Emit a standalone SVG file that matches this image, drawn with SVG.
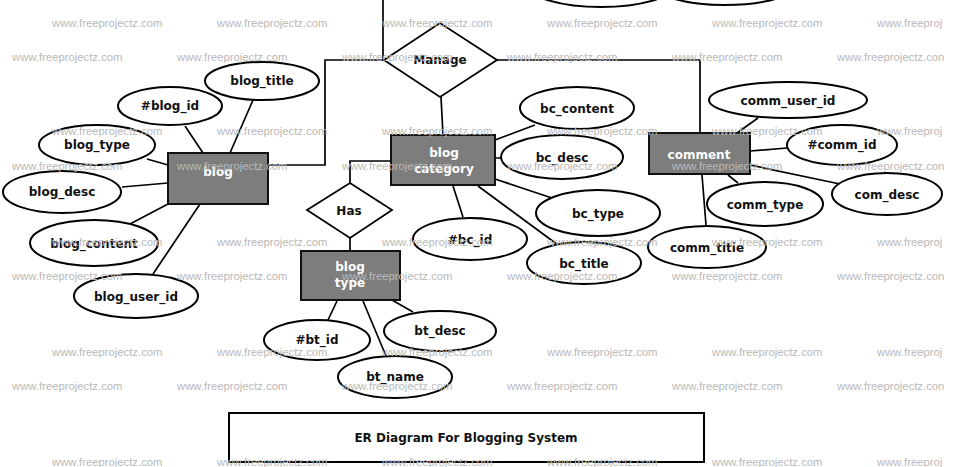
<svg xmlns="http://www.w3.org/2000/svg" width="976" height="467" viewBox="0 0 976 467">
<style>
.wm{font-family:"Liberation Sans",Arial,sans-serif;font-size:11.3px;fill:#b9b9b9}
.ent{fill:#7d7d7d;stroke:#111;stroke-width:2}
.att{fill:#fff;stroke:#000;stroke-width:2}
.rel{fill:#fff;stroke:#000;stroke-width:1.8}
.lbl{font-family:"DejaVu Sans",sans-serif;font-weight:bold;font-size:12px;fill:#111;text-anchor:middle}
.wl{font-family:"DejaVu Sans",sans-serif;font-weight:bold;font-size:12px;fill:#fff;text-anchor:middle}
.cn{fill:none;stroke:#000;stroke-width:1.7}
</style>
<rect width="976" height="467" fill="#fff"/>
<g id="connectors">
<path class="cn" d="M383,0 V60 M268,165 H325 V60 H384 M497,60 H700 V133 M441,97 L443,135"/>
<path class="cn" d="M185,126 L203,153 M253,100 L230,153 M147,159 L168,165 M122,187 L168,183 M130,224 L168,204 M153,274 L200,204"/>
<path class="cn" d="M535,125 L495,140 M495,158 L501,158 M495,179 L552,198 M453,186 L463,217 M478,186 L558,245"/>
<path class="cn" d="M350,183 V161 H391 M350,238 V251"/>
<path class="cn" d="M337,301 L328,320 M392,300 L413,312 M363,301 L386,356"/>
<path class="cn" d="M758,118 L737,133 M750,151 L787,148 M750,165 L840,184 M728,175 L738,183 M702,175 L706,225"/>
</g>
<g id="top-ellipses">
<ellipse class="att" cx="601" cy="-14" rx="72" ry="21"/>
<ellipse class="att" cx="725" cy="-16" rx="72" ry="21"/>
</g>
<g id="manage"><polygon class="rel" points="384,60 440,23 497,60 440,97"/><text class="lbl" x="440" y="64">Manage</text></g>
<g id="has"><polygon class="rel" points="307,210 350,183 392,210 350,238"/><text class="lbl" x="349" y="215">Has</text></g>
<g id="blog"><rect class="ent" x="168" y="153" width="100" height="51"/><text class="wl" x="218" y="176">blog</text></g>
<g id="blog_title"><ellipse class="att" cx="262" cy="81" rx="57" ry="19"/><text class="lbl" x="262" y="85">blog_title</text></g>
<g id="blog_id"><ellipse class="att" cx="170" cy="106" rx="52" ry="19"/><text class="lbl" x="170" y="110">#blog_id</text></g>
<g id="blog_type"><ellipse class="att" cx="97" cy="145" rx="58" ry="20"/><text class="lbl" x="97" y="149">blog_type</text></g>
<g id="blog_desc"><ellipse class="att" cx="62" cy="192" rx="59" ry="21"/><text class="lbl" x="62" y="196">blog_desc</text></g>
<g id="blog_content"><ellipse class="att" cx="94" cy="243" rx="64" ry="23"/><text class="lbl" x="94" y="248">blog_content</text></g>
<g id="blog_user_id"><ellipse class="att" cx="136" cy="296" rx="62" ry="22"/><text class="lbl" x="136" y="301">blog_user_id</text></g>
<g id="blog_category"><rect class="ent" x="391" y="135" width="104" height="50"/><text class="wl" x="444" y="157">blog</text><text class="wl" x="444" y="173">category</text></g>
<g id="bc_content"><ellipse class="att" cx="577" cy="108" rx="57" ry="21"/><text class="lbl" x="577" y="113">bc_content</text></g>
<g id="bc_desc"><ellipse class="att" cx="562" cy="157" rx="61" ry="22"/><text class="lbl" x="562" y="162">bc_desc</text></g>
<g id="bc_type"><ellipse class="att" cx="598" cy="213" rx="62" ry="23"/><text class="lbl" x="598" y="218">bc_type</text></g>
<g id="bc_id"><ellipse class="att" cx="470" cy="239" rx="57" ry="21"/><text class="lbl" x="470" y="244">#bc_id</text></g>
<g id="bc_title"><ellipse class="att" cx="584" cy="263" rx="57" ry="21"/><text class="lbl" x="584" y="268">bc_title</text></g>
<g id="blog_type_entity"><rect class="ent" x="301" y="251" width="99" height="49"/><text class="wl" x="350" y="271">blog</text><text class="wl" x="350" y="287">type</text></g>
<g id="bt_id"><ellipse class="att" cx="317" cy="340" rx="53" ry="20"/><text class="lbl" x="317" y="344">#bt_id</text></g>
<g id="bt_desc"><ellipse class="att" cx="440" cy="331" rx="56" ry="20"/><text class="lbl" x="440" y="335">bt_desc</text></g>
<g id="bt_name"><ellipse class="att" cx="395" cy="377" rx="57" ry="21"/><text class="lbl" x="395" y="381">bt_name</text></g>
<g id="comment"><rect class="ent" x="649" y="133" width="101" height="41"/><text class="wl" x="699" y="159">comment</text></g>
<g id="comm_user_id"><ellipse class="att" cx="788" cy="100" rx="79" ry="18"/><text class="lbl" x="788" y="105">comm_user_id</text></g>
<g id="comm_id"><ellipse class="att" cx="842" cy="145" rx="55" ry="20"/><text class="lbl" x="842" y="149">#comm_id</text></g>
<g id="com_desc"><ellipse class="att" cx="887" cy="194" rx="55" ry="21"/><text class="lbl" x="887" y="199">com_desc</text></g>
<g id="comm_type"><ellipse class="att" cx="765" cy="204" rx="58" ry="22"/><text class="lbl" x="765" y="209">comm_type</text></g>
<g id="comm_title"><ellipse class="att" cx="707" cy="247" rx="59" ry="21"/><text class="lbl" x="707" y="252">comm_titie</text></g>
<g id="title"><rect x="229" y="413" width="475" height="49" fill="#fff" stroke="#000" stroke-width="2"/><text class="lbl" x="466" y="442">ER Diagram For Blogging System</text></g>
<g id="watermarks">
<text class="wm" x="52" y="27">www.freeprojectz.com</text><text class="wm" x="217" y="27">www.freeprojectz.com</text><text class="wm" x="382" y="27">www.freeprojectz.com</text><text class="wm" x="547" y="27">www.freeprojectz.com</text><text class="wm" x="712" y="27">www.freeprojectz.com</text><text class="wm" x="877" y="27">www.freeproj</text>
<text class="wm" x="12" y="61">www.freeprojectz.com</text><text class="wm" x="177" y="61">www.freeprojectz.com</text><text class="wm" x="342" y="61">www.freeprojectz.com</text><text class="wm" x="507" y="61">www.freeprojectz.com</text><text class="wm" x="672" y="61">www.freeprojectz.com</text><text class="wm" x="837" y="61">www.freeprojectz.con</text>
<text class="wm" x="52" y="135">www.freeprojectz.com</text><text class="wm" x="217" y="135">www.freeprojectz.com</text><text class="wm" x="382" y="135">www.freeprojectz.com</text><text class="wm" x="547" y="135">www.freeprojectz.com</text><text class="wm" x="712" y="135">www.freeprojectz.com</text><text class="wm" x="877" y="135">www.freeproj</text>
<text class="wm" x="12" y="170">www.freeprojectz.com</text><text class="wm" x="177" y="170">www.freeprojectz.com</text><text class="wm" x="342" y="170">www.freeprojectz.com</text><text class="wm" x="507" y="170">www.freeprojectz.com</text><text class="wm" x="672" y="170">www.freeprojectz.com</text><text class="wm" x="837" y="170">www.freeprojectz.con</text>
<text class="wm" x="52" y="246">www.freeprojectz.com</text><text class="wm" x="217" y="246">www.freeprojectz.com</text><text class="wm" x="382" y="246">www.freeprojectz.com</text><text class="wm" x="547" y="246">www.freeprojectz.com</text><text class="wm" x="712" y="246">www.freeprojectz.com</text><text class="wm" x="877" y="246">www.freeproj</text>
<text class="wm" x="12" y="280">www.freeprojectz.com</text><text class="wm" x="177" y="280">www.freeprojectz.com</text><text class="wm" x="342" y="280">www.freeprojectz.com</text><text class="wm" x="507" y="280">www.freeprojectz.com</text><text class="wm" x="672" y="280">www.freeprojectz.com</text><text class="wm" x="837" y="280">www.freeprojectz.con</text>
<text class="wm" x="52" y="356">www.freeprojectz.com</text><text class="wm" x="217" y="356">www.freeprojectz.com</text><text class="wm" x="382" y="356">www.freeprojectz.com</text><text class="wm" x="547" y="356">www.freeprojectz.com</text><text class="wm" x="712" y="356">www.freeprojectz.com</text><text class="wm" x="877" y="356">www.freeproj</text>
<text class="wm" x="12" y="390">www.freeprojectz.com</text><text class="wm" x="177" y="390">www.freeprojectz.com</text><text class="wm" x="342" y="390">www.freeprojectz.com</text><text class="wm" x="507" y="390">www.freeprojectz.com</text><text class="wm" x="672" y="390">www.freeprojectz.com</text><text class="wm" x="837" y="390">www.freeprojectz.con</text>
<text class="wm" x="52" y="466">www.freeprojectz.com</text><text class="wm" x="217" y="466">www.freeprojectz.com</text><text class="wm" x="382" y="466">www.freeprojectz.com</text><text class="wm" x="547" y="466">www.freeprojectz.com</text><text class="wm" x="712" y="466">www.freeprojectz.com</text><text class="wm" x="877" y="466">www.freeproj</text>
</g>
</svg>
